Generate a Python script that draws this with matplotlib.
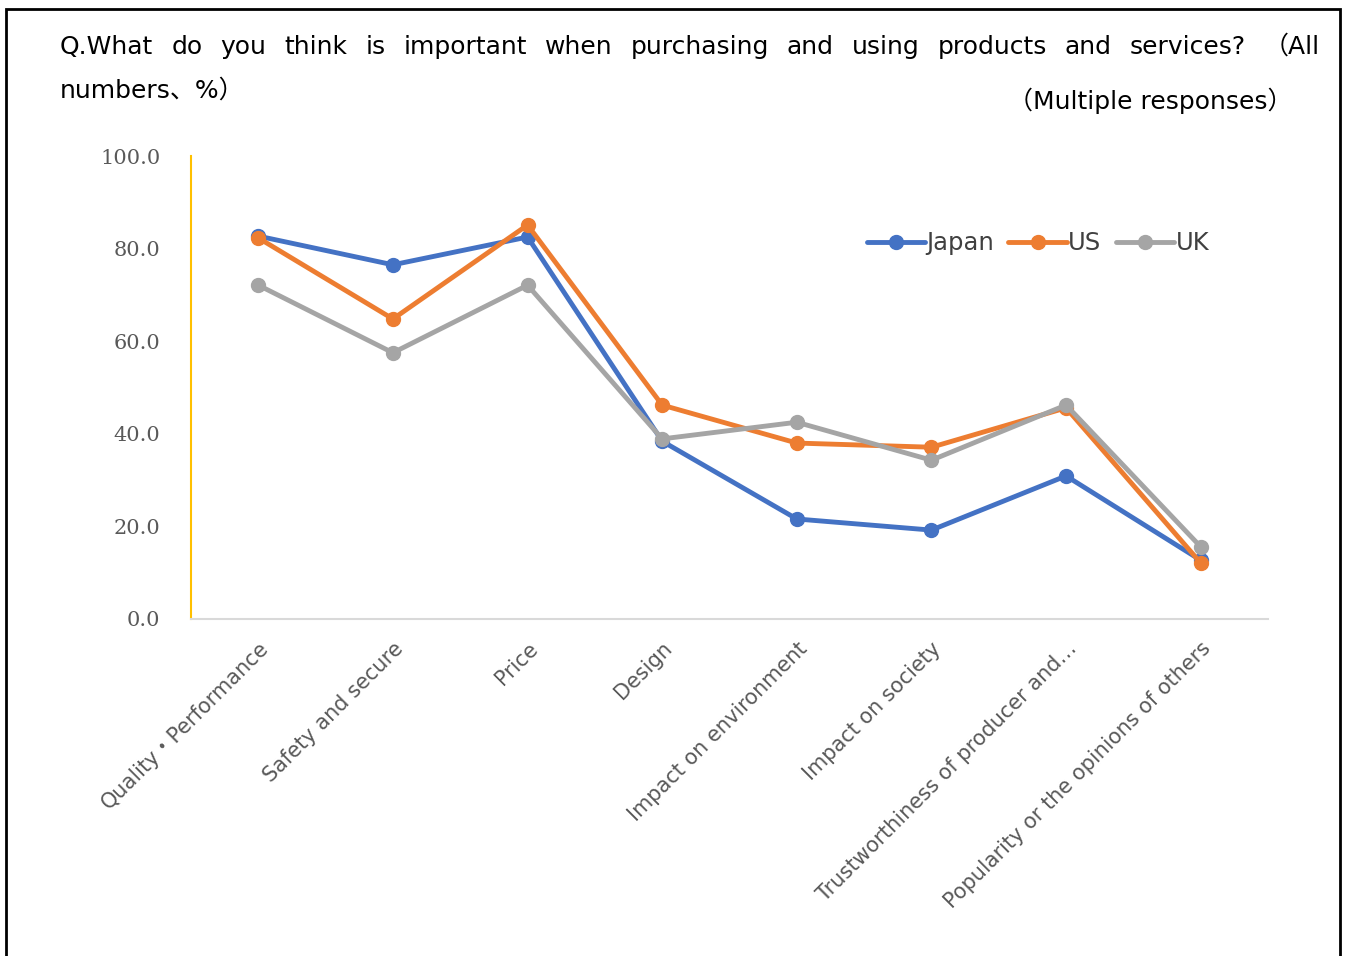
import matplotlib
matplotlib.use("Agg")
import matplotlib.pyplot as plt
from matplotlib.patches import Rectangle

plt.rcParams['font.family'] = ['DejaVu Sans', 'Noto Sans CJK JP']

categories = ['Quality・Performance', 'Safety and secure', 'Price', 'Design',
              'Impact on environment', 'Impact on society',
              'Trustworthiness of producer and…', 'Popularity or the opinions of others']
japan = [82.7, 76.5, 82.5, 38.4, 21.6, 19.2, 30.9, 12.7]
us = [82.3, 64.8, 85.1, 46.2, 38.0, 37.1, 45.6, 12.1]
uk = [72.1, 57.5, 72.1, 38.9, 42.5, 34.3, 46.2, 15.6]
yticks = [0, 20, 40, 60, 80, 100]

W, H = 1346, 956
fig = plt.figure(figsize=(W / 100, H / 100), dpi=100)
ax = fig.add_axes([191 / W, 1 - 619 / H, (1268 - 191) / W, (619 - 156) / H])

x = range(len(categories))
for vals, name, col in [(japan, 'Japan', '#4472C4'), (us, 'US', '#ED7D31'), (uk, 'UK', '#A5A5A5')]:
    ax.plot(x, vals, color=col, lw=3.5, marker='o', ms=10, label=name,
            solid_capstyle='round')

ax.set_xlim(-0.5, len(categories) - 0.5)
ax.set_ylim(0, 100)
ax.set_yticks(yticks)
ax.set_yticklabels([f'{v:.1f}' for v in yticks], fontfamily='DejaVu Serif',
                   fontsize=15, color='#595959')
ax.set_xticks(list(x))
ax.set_xticklabels(categories, rotation=45, ha='right', va='top',
                   rotation_mode='anchor', fontsize=15, color='#595959')
ax.tick_params(axis='both', length=0)
ax.tick_params(axis='y', pad=22)
ax.tick_params(axis='x', pad=14)

for s in ['top', 'right']:
    ax.spines[s].set_visible(False)
ax.spines['left'].set_color('#FFC000')
ax.spines['left'].set_linewidth(1.5)
ax.spines['bottom'].set_color('#D9D9D9')
ax.spines['bottom'].set_linewidth(1.5)

ax.legend(loc='upper left', bbox_to_anchor=(0.607, 0.885), ncol=3, frameon=False,
          fontsize=17.5, handlelength=2.4, handletextpad=0.05, columnspacing=0.6,
          labelcolor='#404040')

# outer frame
fig.patches.append(Rectangle((6 / W, -0.05), (1340 - 6) / W, 1 - 9 / H + 0.05,
                             transform=fig.transFigure, fill=False,
                             edgecolor='black', lw=2))

# justified first line of the question
words = 'Q.What do you think is important when purchasing and using products and services? （All'.split(' ')
texts = [fig.text(0, 1 - 47 / H, w, fontsize=18, va='center', color='black') for w in words]
fig.canvas.draw()
r = fig.canvas.get_renderer()
widths = [t.get_window_extent(r).width for t in texts]
gap = (1320 - 60 - sum(widths)) / (len(words) - 1)
pos = 60
for t, w in zip(texts, widths):
    t.set_x(pos / W)
    pos += w + gap

fig.text(60 / W, 1 - 91 / H, 'numbers、%）', fontsize=18, va='center')
fig.text(1292 / W, 1 - 101 / H, '（Multiple responses）', fontsize=18, va='center', ha='right')

fig.savefig('out.png', dpi=100)
